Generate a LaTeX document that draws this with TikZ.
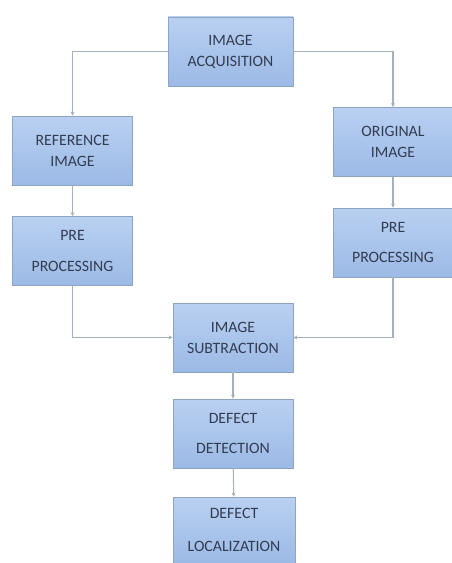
\documentclass[tikz,border=0pt]{standalone}
\usepackage{fontspec}
\setmainfont{Carlito}
\usetikzlibrary{arrows.meta}
\definecolor{boxtop}{HTML}{B9D0F1}
\definecolor{boxbot}{HTML}{9CBAE6}
\definecolor{boxedge}{HTML}{8FA4C2}
\definecolor{linkgray}{HTML}{A6B0BA}
\definecolor{txtnavy}{HTML}{333D52}
\begin{document}
\begin{tikzpicture}[x=0.03cm,y=-0.03cm,
  stepbox/.style={draw=boxedge,line width=0.6pt,top color=boxtop,bottom color=boxbot,
    minimum width=120*0.03cm,minimum height=69*0.03cm,inner sep=0pt,align=center,
    text=txtnavy,font=\fontsize{13.5}{18}\selectfont},
  link/.style={draw=linkgray,line width=0.9pt,-{Stealth[length=3.5pt,width=3.5pt]}}]
\useasboundingbox (0,0) rectangle (452,563);

% boxes
\node[stepbox,minimum width=125*0.03cm] (acq) at (230.5,51.5) {IMAGE\\ACQUISITION};
\node[stepbox] (ref) at (72.5,150.5) {REFERENCE\\IMAGE};
\node[stepbox] (orig) at (393,142) {ORIGINAL\\IMAGE};
\node[stepbox] (prel) at (72.5,251) {PRE\\[8pt]PROCESSING};
\node[stepbox] (prer) at (393,242.5) {PRE\\[8pt]PROCESSING};
\node[stepbox] (sub) at (233,337.5) {IMAGE\\SUBTRACTION};
\node[stepbox] (det) at (233,433.5) {DEFECT\\[8pt]DETECTION};
\node[stepbox,minimum width=122*0.03cm,minimum height=66*0.03cm] (loc) at (234,530) {DEFECT\\[10pt]LOCALIZATION};

% connectors
\draw[link] (acq.west) -| (ref.north);
\draw[link] (acq.east) -| (orig.north);
\draw[link] (ref) -- (prel);
\draw[link] (orig) -- (prer);
\draw[link] (prel.south) |- (sub.west);
\draw[link] (prer.south) |- (sub.east);
\draw[link] (sub) -- (det);
\draw[link] (det) -- (loc);
\end{tikzpicture}
\end{document}
